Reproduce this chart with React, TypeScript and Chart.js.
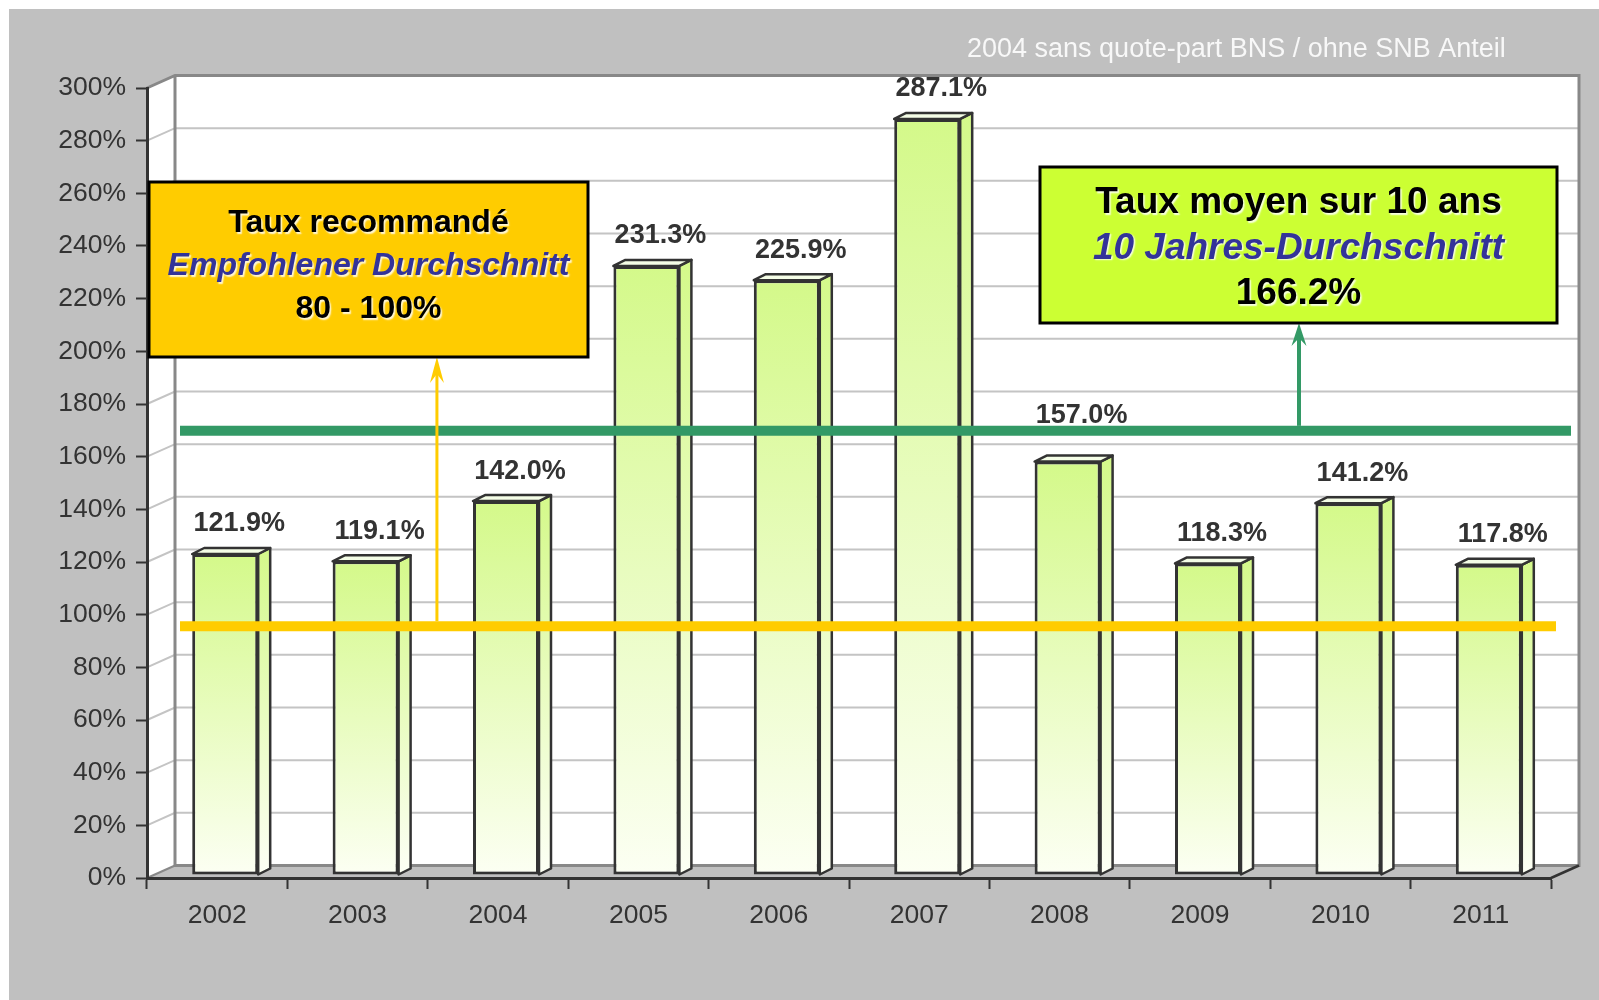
import React, { useEffect, useRef } from 'react';
import { Chart, registerables } from 'chart.js';

Chart.register(...registerables);

// ---------- data ----------
const years = ['2002', '2003', '2004', '2005', '2006', '2007', '2008', '2009', '2010', '2011'];
const ratios = [121.9, 119.1, 142.0, 231.3, 225.9, 287.1, 157.0, 118.3, 141.2, 117.8];
const averageRatio = 166.2; // green line
const recommendedLineValue = 92; // yellow line
const yMin = 0;
const yMax = 300;
const yStep = 20;
const subtitle = '2004 sans quote-part BNS / ohne SNB Anteil';
const recommendedBoxLines = ['Taux recommandé', 'Empfohlener Durchschnitt', '80 - 100%'];
const averageBoxLines = ['Taux moyen sur 10 ans', '10 Jahres-Durchschnitt', '166.2%'];

// ---------- layout / style ----------
const W = 1599;
const H = 1000;
const FONT = '"Liberation Sans", Arial, Helvetica, sans-serif';
const BACK_DX = 28;
const BACK_DY = -12.5;
const BAR_DX = 8;
const BAR_DY = -3;
const DEPTH_DX = 12;
const DEPTH_DY = -6;
const LINE_DY = -9.5;
const BAR_TOP = '#d4f98a';
const BAR_BOTTOM = '#fcfff3';
const BAR_CAP = '#f4fde6';
const EDGE = '#333333';
const GREEN = '#339966';
const YELLOW = '#ffcc00';

function drawArrow(ctx: CanvasRenderingContext2D, x: number, yFrom: number, yTip: number, color: string, lw: number, headLen: number, headW: number) {
  ctx.save();
  ctx.strokeStyle = color;
  ctx.fillStyle = color;
  ctx.lineWidth = lw;
  ctx.beginPath();
  ctx.moveTo(x, yFrom);
  ctx.lineTo(x, yTip + headLen * 0.6);
  ctx.stroke();
  ctx.beginPath();
  ctx.moveTo(x, yTip);
  ctx.lineTo(x - headW / 2, yTip + headLen);
  ctx.lineTo(x, yTip + headLen * 0.65);
  ctx.lineTo(x + headW / 2, yTip + headLen);
  ctx.closePath();
  ctx.fill();
  ctx.restore();
}

function drawBox(
  ctx: CanvasRenderingContext2D,
  x0: number, y0: number, x1: number, y1: number,
  fill: string, lines: string[], size: number, baselines: number[]
) {
  ctx.save();
  ctx.fillStyle = fill;
  ctx.fillRect(x0, y0, x1 - x0, y1 - y0);
  ctx.strokeStyle = '#000000';
  ctx.lineWidth = 3;
  ctx.strokeRect(x0, y0, x1 - x0, y1 - y0);
  const cx = (x0 + x1) / 2;
  ctx.textAlign = 'center';
  ctx.textBaseline = 'alphabetic';
  ctx.shadowColor = 'rgba(255,255,255,0.85)';
  ctx.shadowOffsetX = 1.5;
  ctx.shadowOffsetY = 1.5;
  ctx.shadowBlur = 1.5;
  lines.forEach((t, i) => {
    if (i === 1) {
      ctx.font = `italic bold ${size}px ${FONT}`;
      ctx.fillStyle = '#333399';
    } else {
      ctx.font = `bold ${size}px ${FONT}`;
      ctx.fillStyle = '#000000';
    }
    ctx.fillText(t, cx, y0 + baselines[i]);
  });
  ctx.restore();
}

const barFill = (c: any) => {
  const chart = c.chart;
  const ys = chart.scales && chart.scales.y;
  if (!ys || typeof c.raw !== 'number') return BAR_TOP;
  const top = ys.getPixelForValue(c.raw);
  const base = ys.getPixelForValue(0);
  if (!isFinite(top) || !isFinite(base) || top === base) return BAR_TOP;
  const g = chart.ctx.createLinearGradient(0, top, 0, base);
  g.addColorStop(0, BAR_TOP);
  g.addColorStop(1, BAR_BOTTOM);
  return g;
};

const threeD = {
  id: 'threeD',
  beforeDraw(chart: any) {
    const ctx: CanvasRenderingContext2D = chart.ctx;
    const { left, right, top, bottom } = chart.chartArea;
    const ys = chart.scales.y;
    ctx.save();
    ctx.fillStyle = '#ffffff';
    ctx.fillRect(0, 0, W, H);
    ctx.fillStyle = '#c0c0c0';
    ctx.fillRect(9, 9, W - 9, H - 9);

    // side wall
    ctx.fillStyle = '#ffffff';
    ctx.beginPath();
    ctx.moveTo(left, top);
    ctx.lineTo(left + BACK_DX, top + BACK_DY);
    ctx.lineTo(left + BACK_DX, bottom + BACK_DY);
    ctx.lineTo(left, bottom);
    ctx.closePath();
    ctx.fill();
    // back wall
    ctx.fillRect(left + BACK_DX, top + BACK_DY, right - left, bottom - top);

    // gridlines
    ctx.strokeStyle = '#c4c4c4';
    ctx.lineWidth = 2;
    ys.ticks.forEach((t: any) => {
      if (t.value <= yMin || t.value >= yMax) return;
      const y = ys.getPixelForValue(t.value);
      ctx.beginPath();
      ctx.moveTo(left, y);
      ctx.lineTo(left + BACK_DX, y + BACK_DY);
      ctx.lineTo(right + BACK_DX, y + BACK_DY);
      ctx.stroke();
    });

    // floor
    ctx.fillStyle = '#c0c0c0';
    ctx.beginPath();
    ctx.moveTo(left, bottom);
    ctx.lineTo(right, bottom);
    ctx.lineTo(right + BACK_DX, bottom + BACK_DY);
    ctx.lineTo(left + BACK_DX, bottom + BACK_DY);
    ctx.closePath();
    ctx.fill();

    // wall edges
    ctx.strokeStyle = '#888888';
    ctx.lineWidth = 3;
    ctx.beginPath();
    ctx.moveTo(left, top);
    ctx.lineTo(left + BACK_DX, top + BACK_DY);
    ctx.lineTo(right + BACK_DX, top + BACK_DY);
    ctx.lineTo(right + BACK_DX, bottom + BACK_DY);
    ctx.lineTo(left + BACK_DX, bottom + BACK_DY);
    ctx.lineTo(left + BACK_DX, top + BACK_DY);
    ctx.stroke();
    ctx.lineWidth = 2;
    ctx.beginPath();
    ctx.moveTo(left, bottom);
    ctx.lineTo(left + BACK_DX, bottom + BACK_DY);
    ctx.stroke();
    ctx.strokeStyle = EDGE;
    ctx.lineWidth = 2.5;
    ctx.beginPath();
    ctx.moveTo(right, bottom);
    ctx.lineTo(right + BACK_DX, bottom + BACK_DY);
    ctx.stroke();
    ctx.restore();
  },
  beforeDatasetsDraw(chart: any) {
    chart.ctx.save();
    chart.ctx.translate(BAR_DX, BAR_DY);
  },
  afterDatasetsDraw(chart: any) {
    const ctx: CanvasRenderingContext2D = chart.ctx;
    const meta = chart.getDatasetMeta(0);
    ctx.lineWidth = 2.5;
    ctx.lineJoin = 'round';
    ctx.strokeStyle = EDGE;
    meta.data.forEach((el: any) => {
      const { x, y, base, width } = el.getProps(['x', 'y', 'base', 'width'], true);
      if (![x, y, base, width].every((v) => isFinite(v))) return;
      const l = x - width / 2;
      const r = x + width / 2;
      const g = ctx.createLinearGradient(0, y + DEPTH_DY, 0, base + DEPTH_DY);
      g.addColorStop(0, BAR_TOP);
      g.addColorStop(1, BAR_BOTTOM);
      ctx.fillStyle = g;
      ctx.beginPath();
      ctx.moveTo(r, y);
      ctx.lineTo(r + DEPTH_DX, y + DEPTH_DY);
      ctx.lineTo(r + DEPTH_DX, base + DEPTH_DY);
      ctx.lineTo(r, base);
      ctx.closePath();
      ctx.fill();
      ctx.stroke();
      ctx.fillStyle = BAR_CAP;
      ctx.beginPath();
      ctx.moveTo(l, y);
      ctx.lineTo(l + DEPTH_DX, y + DEPTH_DY);
      ctx.lineTo(r + DEPTH_DX, y + DEPTH_DY);
      ctx.lineTo(r, y);
      ctx.closePath();
      ctx.fill();
      ctx.stroke();
    });
    ctx.restore();

    // value labels (nudged above the average line when they would collide with it)
    const yGreen = chart.scales.y.getPixelForValue(averageRatio) + LINE_DY;
    ctx.save();
    ctx.font = `bold 27px ${FONT}`;
    ctx.fillStyle = EDGE;
    ctx.textAlign = 'center';
    ctx.textBaseline = 'middle';
    meta.data.forEach((el: any, i: number) => {
      const { x, y } = el.getProps(['x', 'y'], true);
      let ly = y + BAR_DY - 30;
      if (Math.abs(ly - yGreen) < 16) ly = yGreen - 15;
      ctx.fillText(ratios[i].toFixed(1) + '%', x + 22, ly);
    });
    ctx.restore();
  },
  afterDraw(chart: any) {
    const ctx: CanvasRenderingContext2D = chart.ctx;
    const { left, right } = chart.chartArea;
    const ys = chart.scales.y;
    const xs = chart.scales.x;
    const yYellow = ys.getPixelForValue(recommendedLineValue) + LINE_DY;
    const yGreen = ys.getPixelForValue(averageRatio) + LINE_DY;

    ctx.save();
    ctx.lineCap = 'butt';
    ctx.lineWidth = 10;
    ctx.strokeStyle = GREEN;
    ctx.beginPath();
    ctx.moveTo(left + 33, yGreen);
    ctx.lineTo(right + 20, yGreen);
    ctx.stroke();
    ctx.strokeStyle = YELLOW;
    ctx.beginPath();
    ctx.moveTo(left + 33, yYellow);
    ctx.lineTo(right + 5, yYellow);
    ctx.stroke();
    ctx.restore();

    // boxes geometry
    const yb = { x0: 149, y0: 182, x1: 588, y1: 357 };
    const gb = { x0: 1040, y0: 167, x1: 1557, y1: 323 };

    drawArrow(ctx, xs.getPixelForValue(1.565), yYellow - 5, yb.y1, YELLOW, 3, 26, 14);
    drawArrow(ctx, xs.getPixelForValue(7.705), yGreen - 5, gb.y1, GREEN, 4, 23, 15);

    drawBox(ctx, yb.x0, yb.y0, yb.x1, yb.y1, YELLOW, recommendedBoxLines, 32, [50, 93, 136]);
    drawBox(ctx, gb.x0, gb.y0, gb.x1, gb.y1, '#ccff33', averageBoxLines, 37, [46, 91.5, 137]);

    ctx.save();
    ctx.font = `27px ${FONT}`;
    ctx.fillStyle = '#f8f8f8';
    ctx.textAlign = 'left';
    ctx.textBaseline = 'alphabetic';
    ctx.fillText(subtitle, 967, 57);
    ctx.restore();
  },
};

export default function App() {
  const ref = useRef<HTMLCanvasElement | null>(null);
  useEffect(() => {
    if (!ref.current) return;
    const chart = new Chart(ref.current, {
      type: 'bar',
      data: {
        labels: years,
        datasets: [
          {
            data: ratios,
            backgroundColor: barFill as any,
            borderColor: EDGE,
            borderWidth: 3,
            borderSkipped: false,
            barPercentage: 0.47,
            categoryPercentage: 1,
            clip: false as any,
          },
        ],
      },
      options: {
        responsive: false,
        animation: false,
        devicePixelRatio: 1,
        layout: { padding: { left: 47, right: 48, top: 88, bottom: 42 } },
        plugins: {
          legend: { display: false },
          tooltip: { enabled: false },
          title: { display: false },
        },
        scales: {
          x: {
            offset: true,
            grid: {
              display: true,
              offset: true,
              drawOnChartArea: false,
              drawTicks: true,
              tickLength: 11,
              tickColor: EDGE,
              tickWidth: 2,
            },
            border: { display: true, color: EDGE, width: 3 },
            ticks: {
              color: EDGE,
              font: { family: FONT, size: 26.5 },
              padding: 11,
              maxRotation: 0,
              autoSkip: false,
            },
            afterFit: (s: any) => {
              s.height = 80;
            },
          },
          y: {
            min: yMin,
            max: yMax,
            ticks: {
              stepSize: yStep,
              callback: (v: any) => v + '%',
              color: EDGE,
              font: { family: FONT, size: 26.5 },
              padding: 10,
              autoSkip: false,
            },
            grid: {
              display: true,
              drawOnChartArea: false,
              drawTicks: true,
              tickLength: 11,
              tickColor: EDGE,
              tickWidth: 2,
            },
            border: { display: true, color: EDGE, width: 3 },
            afterFit: (s: any) => {
              s.width = 100;
            },
          },
        },
      },
      plugins: [threeD],
    });
    return () => chart.destroy();
  }, []);
  return (
    <div style={{ position: 'fixed', left: 0, top: 0, width: W, height: H }}>
      <canvas ref={ref} width={W} height={H} style={{ width: W, height: H, display: 'block' }} />
    </div>
  );
}
